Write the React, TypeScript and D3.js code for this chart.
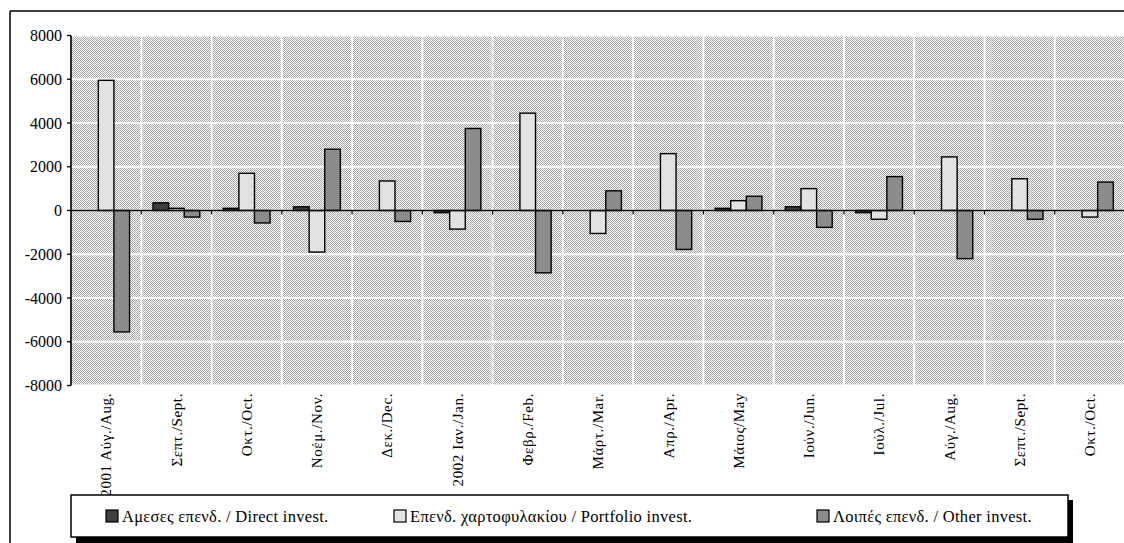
import React from "react";
import * as d3 from "d3";

const categories = [
  "2001 Αύγ./Aug.", "Σεπτ./Sept.", "Οκτ./Oct.", "Νοέμ./Nov.", "Δεκ./Dec.",
  "2002 Ιαν./Jan.", "Φεβρ./Feb.", "Μάρτ./Mar.", "Απρ./Apr.", "Μάιος/May",
  "Ιούν./Jun.", "Ιούλ./Jul.", "Αύγ./Aug.", "Σεπτ./Sept.", "Οκτ./Oct.",
];
const directInvest = [0, 350, 100, 170, 0, -100, 0, 0, 0, 100, 170, -100, 0, 0, 0];
const portfolioInvest = [5950, 100, 1700, -1900, 1350, -850, 4450, -1050, 2600, 450, 1000, -400, 2450, 1450, -300];
const otherInvest = [-5550, -300, -570, 2800, -500, 3750, -2850, 900, -1780, 650, -770, 1550, -2200, -400, 1300];
const yTicks = [8000, 6000, 4000, 2000, 0, -2000, -4000, -6000, -8000];
const seriesNames = [
  "Αμεσες επενδ. / Direct invest.",
  "Επενδ. χαρτοφυλακίου / Portfolio invest.",
  "Λοιπές επενδ. / Other invest.",
];
const seriesColors = ["#404040", "#e2e2e2", "#8c8c8c"];

export default function App() {
  const W = 1124, H = 543;
  const left = 71, right = 1125, top = 35.5, bottom = 385.5;
  const idx = categories.map((_, i) => String(i));
  const x = d3.scaleBand<string>().domain(idx).range([left, right]).paddingInner(0).paddingOuter(0);
  const y = d3.scaleLinear().domain([-8000, 8000]).range([bottom, top]);
  const series = [directInvest, portfolioInvest, otherInvest];
  const bw = x.bandwidth() * 0.222;
  const groupOff = (x.bandwidth() - 3 * bw) / 2;
  const font = "'Liberation Serif', 'Times New Roman', 'DejaVu Serif', serif";
  const legendX = [106, 394, 817];
  const tstyle = { fontFamily: font };

  return (
    <svg width={W} height={H} style={{ position: "absolute", left: 0, top: 0, background: "#fff", fontFamily: font }}>
      <defs>
        <pattern id="dots" width="2" height="2" patternUnits="userSpaceOnUse">
          <rect x="0" y="0" width="2" height="2" fill="#ffffff" />
          <rect x="0" y="0" width="1" height="1" fill="#a4a4a4" />
          <rect x="1" y="1" width="1" height="1" fill="#a4a4a4" />
        </pattern>
      </defs>
      <line x1={10} y1={11} x2={W} y2={11} stroke="#000" strokeWidth={1.5} />
      <line x1={10} y1={11} x2={10} y2={H} stroke="#000" strokeWidth={1.5} />
      <rect x={left} y={top} width={right - left} height={bottom - top} fill="url(#dots)" shapeRendering="crispEdges" />
      {yTicks.map((t) => (
        <line key={"h" + t} x1={left} x2={right} y1={y(t)} y2={y(t)} stroke="#fff" strokeWidth={1.8} />
      ))}
      {idx.map((c, i) => (
        <line key={"v" + i} x1={(x(c) as number) + x.bandwidth()} x2={(x(c) as number) + x.bandwidth()} y1={top} y2={bottom} stroke="#fff" strokeWidth={1.8} />
      ))}
      {series.map((vals, s) =>
        vals.map((v, i) => {
          if (v === 0) return null;
          const bx = (x(idx[i]) as number) + groupOff + s * bw;
          const y0 = y(Math.max(0, v));
          const y1 = y(Math.min(0, v));
          return (
            <rect key={s + "-" + i} x={bx} y={y0} width={bw} height={y1 - y0} fill={seriesColors[s]} stroke="#000" strokeWidth={1.4} />
          );
        })
      )}
      <line x1={left} x2={right} y1={y(0)} y2={y(0)} stroke="#000" strokeWidth={1.6} />
      {idx.map((c, i) => (
        <line key={"t" + i} x1={(x(c) as number) + x.bandwidth()} x2={(x(c) as number) + x.bandwidth()} y1={y(0)} y2={y(0) + 4} stroke="#000" strokeWidth={1.2} />
      ))}
      <line x1={left} x2={left} y1={top} y2={bottom} stroke="#000" strokeWidth={1.6} />
      {yTicks.map((t) => (
        <g key={"yt" + t}>
          <line x1={left - 4} x2={left} y1={y(t)} y2={y(t)} stroke="#000" strokeWidth={1.3} />
          <text x={left - 9} y={y(t)} dy="0.35em" textAnchor="end" style={tstyle} fontSize={16}>{t}</text>
        </g>
      ))}
      {idx.map((c, i) => {
        const cx = (x(c) as number) + x.bandwidth() / 2;
        return (
          <text key={"l" + i} transform={`translate(${cx},393) rotate(-90)`} dy="0.35em" textAnchor="end" style={tstyle} fontSize={15} letterSpacing={0.6}>{categories[i]}</text>
        );
      })}
      <rect x={76} y={500} width={997} height={43} fill="#000" />
      <rect x={71} y={495} width={997} height={42} fill="#fff" stroke="#000" strokeWidth={1.5} />
      {seriesNames.map((n, i) => (
        <g key={"lg" + i}>
          <rect x={legendX[i]} y={510} width={12} height={12} fill={seriesColors[i]} stroke="#000" strokeWidth={1.2} />
          <text x={legendX[i] + 16} y={521.5} style={tstyle} fontSize={16.5} letterSpacing={0.3}>{n}</text>
        </g>
      ))}
    </svg>
  );
}
